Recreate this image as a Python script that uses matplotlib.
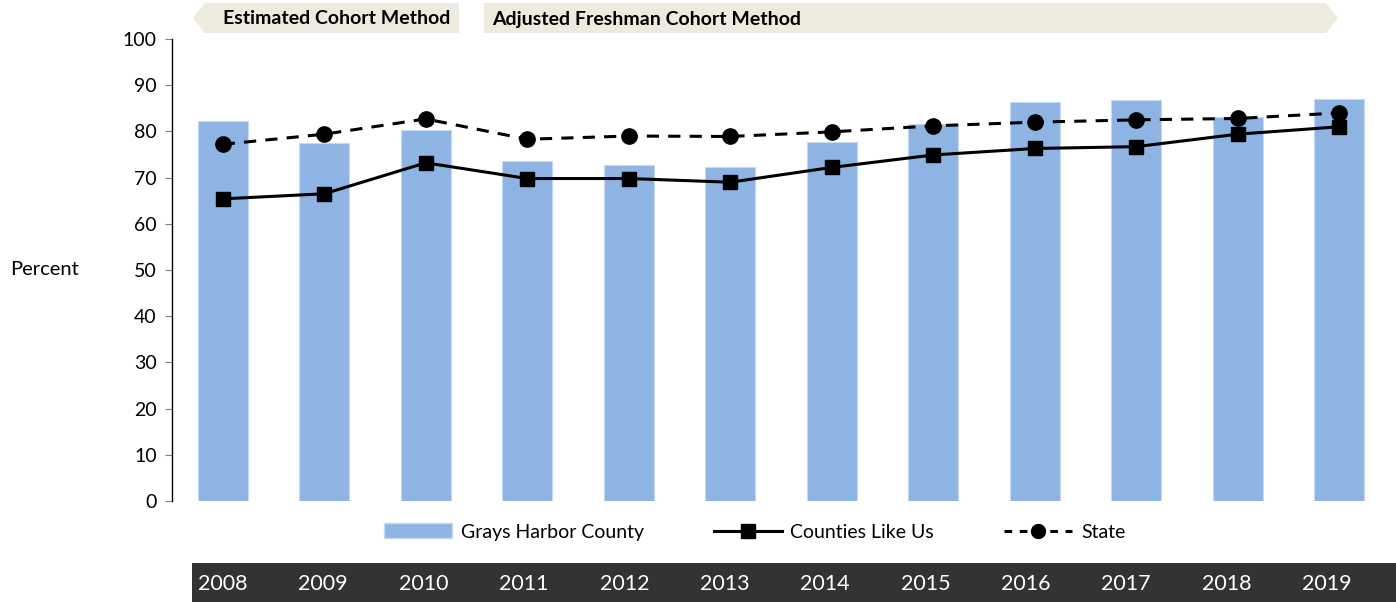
import matplotlib.pyplot as plt
import matplotlib.patches as mpatches
import matplotlib.transforms as mtransforms
from matplotlib.lines import Line2D
import numpy as np

plt.rcParams['font.family'] = ['Lato', 'DejaVu Sans']

years = ['2008', '2009', '2010', '2011', '2012', '2013',
         '2014', '2015', '2016', '2017', '2018', '2019']
county = [82.3, 77.4, 80.3, 73.6, 72.7, 72.2, 77.8, 81.6, 86.4, 86.9, 83.2, 87.1]
like_us = [65.4, 66.5, 73.2, 69.8, 69.8, 69.0, 72.2, 74.9, 76.3, 76.7, 79.4, 81.0]
state = [77.2, 79.4, 82.7, 78.3, 79.0, 78.9, 79.9, 81.2, 82.0, 82.5, 82.8, 84.0]

W, H = 1396, 602


def px(x, y):
    # pixel position -> figure fraction
    return (x / W, 1 - y / H)


fig = plt.figure(figsize=(W / 100, H / 100), dpi=100)
l, b = px(172, 501)
r, t = px(1390, 39)
ax = fig.add_axes([l, b, r - l, t - b])

x = np.arange(len(years))
ax.bar(x, county, width=0.49, color='#8EB4E3', edgecolor='#C5D9F1', linewidth=0.8,
       zorder=1)
ax.plot(x, like_us, color='black', lw=2.2, marker='s', ms=10, zorder=3)
ax.plot(x, state, color='black', lw=2.2, ls=(0, (4, 3)), marker='o', ms=11, zorder=3)

ax.set_xlim(-0.5, len(years) - 0.5)
ax.set_ylim(0, 100)
ax.set_yticks(range(0, 101, 10))
ax.tick_params(axis='y', labelsize=14, length=5, color='#808080', direction='out', pad=6)
ax.set_xticks([])
for s in ['top', 'right', 'bottom']:
    ax.spines[s].set_visible(False)
ax.spines['left'].set_color('black')
ax.spines['left'].set_linewidth(1.0)

fig.text(px(10, 270)[0], px(10, 270)[1], 'Percent', fontsize=14.5, va='center', ha='left')

# method banners
banner = '#EDEBE0'
left_b = [px(193, 18), px(205, 3), px(459, 3), px(459, 33), px(205, 33)]
right_b = [px(484, 3), px(1326, 3), px(1338, 18), px(1326, 33), px(484, 33)]
for pts in (left_b, right_b):
    fig.patches.append(mpatches.Polygon(pts, closed=True, transform=fig.transFigure,
                                        facecolor=banner, edgecolor='none'))
fig.text(*px(223, 19), 'Estimated Cohort Method', fontsize=14, fontweight='bold',
         va='center', ha='left')
fig.text(*px(492, 19), 'Adjusted Freshman Cohort Method', fontsize=14, fontweight='bold',
         va='center', ha='left')

# dark year strip
x0, y0 = px(192, 602)
x1, y1 = px(1396, 563)
fig.patches.append(mpatches.Rectangle((x0, y0), x1 - x0, y1 - y0, transform=fig.transFigure,
                                      facecolor='#333333', edgecolor='none'))
trans = mtransforms.blended_transform_factory(ax.transData, fig.transFigure)
for i, yr in enumerate(years):
    fig.text(i - 0.011 * i, px(0, 584)[1], yr, transform=trans, color='white', fontsize=15.5,
             ha='center', va='center')

handles = [mpatches.Patch(facecolor='#8EB4E3', edgecolor='#C5D9F1'),
           Line2D([], [], color='black', lw=2.2, marker='s', ms=10),
           Line2D([], [], color='black', lw=2.2, ls=(0, (2.5, 2.5)), marker='o', ms=10)]
fig.legend(handles, ['Grays Harbor County', 'Counties Like Us', 'State'],
           loc='center left', bbox_to_anchor=px(376, 532), ncol=3, frameon=False,
           fontsize=14, handlelength=3.5, handleheight=0.8, columnspacing=3.6,
           handletextpad=0.45, borderaxespad=0)

fig.savefig('out.png', dpi=100)
